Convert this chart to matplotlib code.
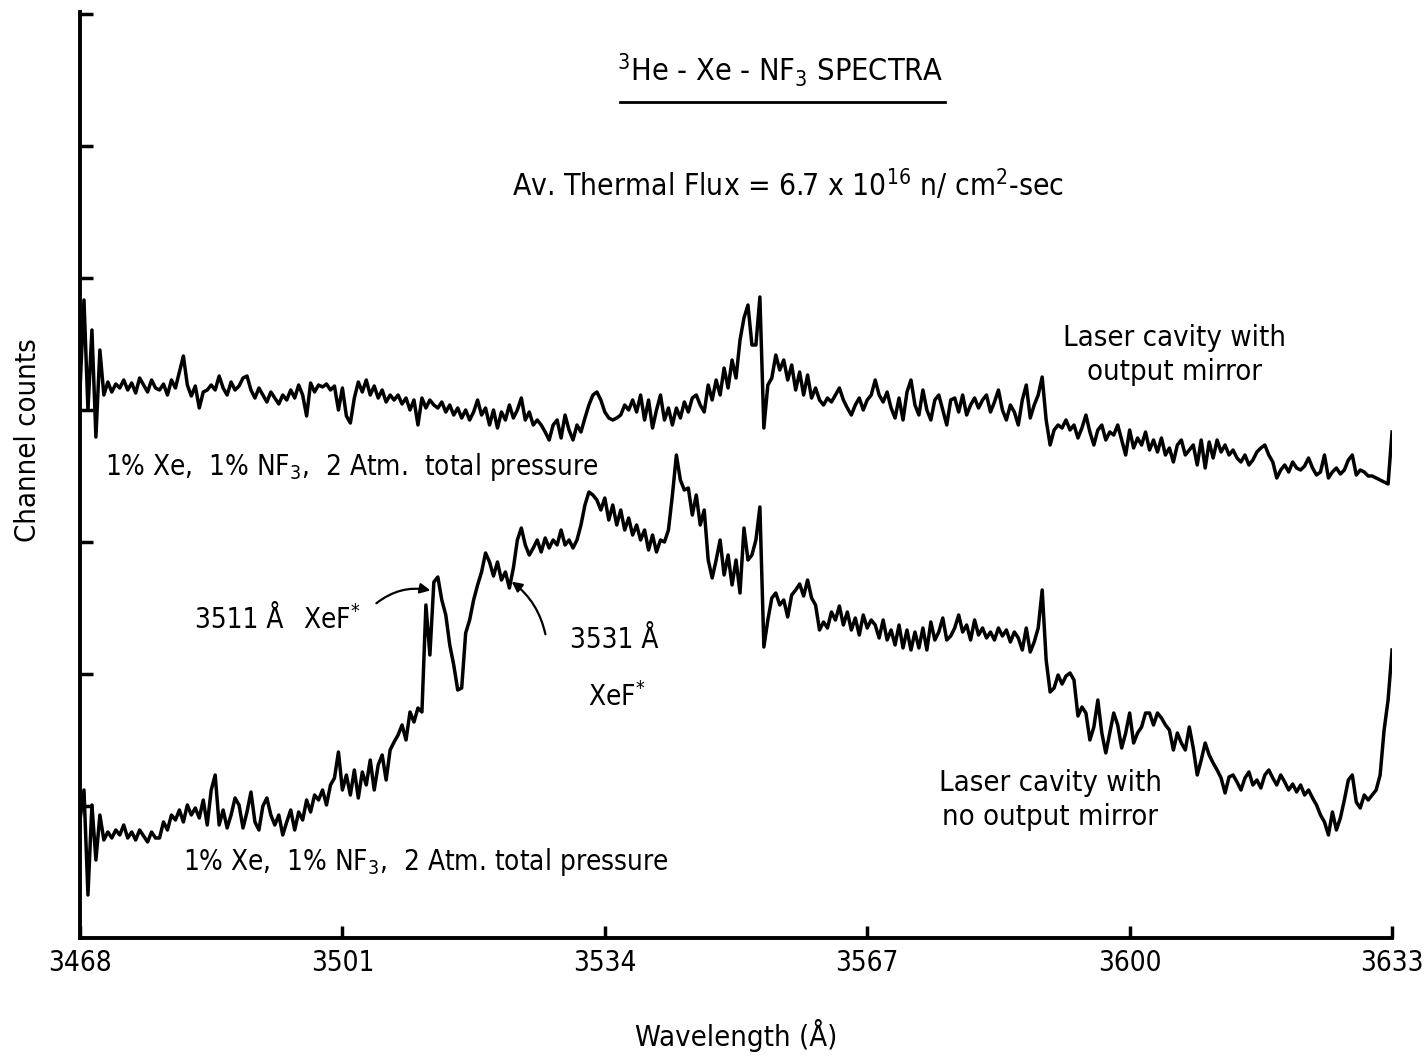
import matplotlib.pyplot as plt
import numpy as np
from matplotlib.lines import Line2D
from matplotlib import font_manager

# wavelength grid of the detector channels (0.5 A steps)
wave_start = 3468
wave_stop = 3633
n_channels = 331
wavelength = np.linspace(wave_start, wave_stop, n_channels)

# channel counts, laser cavity with output mirror
counts_mirror = [
    548, 638, 528, 608, 501, 588, 543, 556, 546, 554,
    550, 558, 548, 555, 545, 560, 553, 546, 558, 550,
    548, 554, 543, 558, 550, 566, 582, 553, 542, 552,
    530, 546, 548, 553, 548, 562, 550, 543, 556, 548,
    552, 560, 562, 548, 540, 550, 543, 536, 546, 540,
    534, 543, 538, 548, 540, 553, 543, 522, 555, 546,
    553, 551, 554, 548, 552, 528, 550, 522, 515, 540,
    556, 546, 558, 543, 552, 540, 548, 536, 543, 538,
    543, 534, 540, 528, 538, 513, 540, 530, 538, 533,
    530, 536, 526, 533, 523, 530, 520, 528, 518, 526,
    538, 523, 530, 513, 528, 510, 526, 518, 533, 520,
    528, 540, 518, 526, 513, 518, 513, 506, 498, 513,
    518, 500, 523, 508, 498, 513, 506, 520, 533, 543,
    546, 538, 526, 520, 518, 520, 523, 533, 528, 538,
    526, 543, 518, 538, 510, 528, 543, 518, 530, 513,
    530, 520, 536, 526, 540, 543, 533, 526, 553, 538,
    558, 543, 570, 550, 578, 560, 598, 620, 633, 593,
    593, 641, 510, 553, 560, 583, 568, 578, 558, 573,
    548, 566, 543, 563, 540, 550, 538, 533, 540, 536,
    543, 550, 538, 530, 523, 533, 540, 528, 538, 543,
    558, 543, 536, 546, 530, 520, 540, 518, 546, 558,
    533, 523, 548, 528, 518, 538, 543, 528, 513, 538,
    540, 526, 543, 523, 533, 540, 530, 538, 543, 526,
    536, 548, 528, 518, 533, 526, 513, 538, 553, 520,
    533, 543, 561, 518, 493, 508, 513, 510, 518, 508,
    513, 500, 510, 523, 506, 493, 508, 513, 498, 506,
    503, 513, 498, 483, 508, 490, 500, 493, 506, 488,
    498, 486, 500, 483, 490, 476, 493, 498, 483, 488,
    493, 473, 498, 470, 496, 480, 498, 486, 493, 483,
    488, 480, 476, 483, 473, 478, 486, 490, 493, 483,
    476, 460, 468, 473, 466, 476, 470, 468, 472, 480,
    470, 463, 466, 483, 460, 466, 470, 464, 468, 478,
    483, 463, 468, 466, 462, 462, 460, 458, 456, 454, 506,
]

# channel counts, laser cavity with no output mirror
counts_no_mirror = [
    118, 148, 43, 133, 78, 123, 98, 106, 100, 108,
    103, 113, 100, 106, 98, 108, 102, 96, 106, 100,
    100, 116, 108, 123, 118, 128, 116, 133, 123, 130,
    120, 138, 113, 148, 163, 113, 128, 110, 123, 140,
    133, 110, 126, 146, 116, 108, 132, 140, 123, 113,
    123, 103, 116, 128, 108, 126, 118, 138, 126, 143,
    138, 148, 133, 153, 160, 186, 148, 163, 143, 168,
    140, 166, 153, 178, 148, 173, 183, 158, 188, 196,
    203, 213, 198, 226, 216, 230, 226, 333, 283, 356,
    361, 338, 323, 293, 273, 248, 250, 305, 318, 338,
    353, 366, 385, 376, 362, 376, 358, 366, 350, 370,
    398, 410, 393, 383, 390, 398, 386, 400, 390, 398,
    393, 408, 393, 398, 390, 398, 413, 433, 446, 443,
    438, 428, 440, 418, 433, 413, 428, 408, 420, 403,
    413, 398, 408, 388, 403, 386, 398, 396, 408, 443,
    483, 458, 448, 450, 423, 443, 413, 428, 378, 360,
    378, 398, 363, 383, 353, 378, 345, 410, 378, 383,
    398, 431, 291, 318, 340, 345, 333, 338, 321, 343,
    348, 354, 342, 358, 340, 333, 308, 316, 310, 326,
    318, 332, 313, 326, 308, 320, 303, 323, 310, 318,
    313, 300, 318, 298, 308, 293, 313, 290, 308, 288,
    306, 290, 310, 288, 316, 298, 306, 320, 298, 302,
    310, 323, 306, 313, 298, 318, 303, 310, 300, 306,
    298, 310, 302, 308, 296, 306, 300, 288, 310, 286,
    296, 310, 348, 278, 246, 250, 263, 254, 262, 265,
    258, 222, 231, 225, 198, 211, 238, 205, 185, 205,
    225, 213, 190, 205, 225, 195, 205, 211, 225, 225,
    213, 225, 220, 213, 208, 188, 205, 195, 188, 211,
    190, 163, 178, 195, 183, 175, 168, 160, 145, 161,
    163, 156, 148, 160, 166, 153, 158, 150, 163, 168,
    160, 153, 163, 156, 148, 154, 146, 153, 143, 148,
    140, 133, 123, 116, 103, 126, 108, 120, 138, 158,
    163, 136, 130, 143, 138, 143, 148, 163, 208, 238, 288,
]

x_ticks = [3468, 3501, 3534, 3567, 3600, 3633]
y_ticks = [132, 264, 396, 528, 660, 792, 924]

# 优先使用窄体字体
font_path = font_manager.findfont(
    font_manager.FontProperties(family='DejaVu Sans', stretch='condensed'))
if 'Condensed' in font_path:
    plt.rcParams['font.stretch'] = 'condensed'
    fs = 20
else:
    fs = 18
plt.rcParams['font.family'] = ['DejaVu Sans']
plt.rcParams['mathtext.default'] = 'regular'

fig = plt.figure(figsize=(14.26, 10.63), dpi=100)
ax = fig.add_axes([0.0561, 0.1176, 0.9201, 0.8711])

ax.plot(wavelength, counts_mirror, color='black', linewidth=2.5)
ax.plot(wavelength, counts_no_mirror, color='black', linewidth=2.5)

ax.set_xlim(wave_start, wave_stop)
ax.set_ylim(0, 926)

# 坐标轴样式
for side in ['top', 'right']:
    ax.spines[side].set_visible(False)
for side in ['left', 'bottom']:
    ax.spines[side].set_linewidth(2.8)
ax.set_xticks(x_ticks)
ax.set_xticklabels([str(v) for v in x_ticks], fontsize=fs)
ax.set_yticks(y_ticks)
ax.set_yticklabels([])
ax.tick_params(axis='both', direction='in', length=9, width=2.5, pad=8)

ax.set_xlabel('Wavelength (Å)', fontsize=fs + 1, labelpad=30)
ax.set_ylabel('Channel counts', fontsize=fs + 1)
ax.yaxis.set_label_coords(-0.029, 0.538)

# 标题和说明文字
ax.text(3556, 868, '$^{3}$He - Xe - NF$_{3}$ SPECTRA', fontsize=fs + 2,
        ha='center', va='center')
fig.add_artist(Line2D([620 / 1426, 945 / 1426], [1 - 102 / 1063, 1 - 102 / 1063],
                      color='black', linewidth=2.0))
ax.text(3557, 753, 'Av. Thermal Flux = 6.7 x 10$^{16}$ n/ cm$^{2}$-sec',
        fontsize=fs + 1.5, ha='center', va='center')

ax.text(3605.7, 583, 'Laser cavity with\noutput mirror', fontsize=fs + 1,
        ha='center', va='center', multialignment='center', linespacing=1.25)
ax.text(3471.1, 471, '1% Xe,  1% NF$_{3}$,  2 Atm.  total pressure', fontsize=fs,
        ha='left', va='center')

ax.text(3482.5, 318, '3511 Å', fontsize=fs, ha='left', va='center')
ax.text(3496.0, 318, 'XeF$^{*}$', fontsize=fs, ha='left', va='center')
ax.text(3529.6, 298, '3531 Å', fontsize=fs, ha='left', va='center')
ax.text(3531.9, 241, 'XeF$^{*}$', fontsize=fs, ha='left', va='center')

ax.text(3590.0, 138, 'Laser cavity with\nno output mirror', fontsize=fs + 1,
        ha='center', va='center', multialignment='center', linespacing=1.25)
ax.text(3481.0, 76, '1% Xe,  1% NF$_{3}$,  2 Atm. total pressure', fontsize=fs,
        ha='left', va='center')

# 指向 XeF* 峰的箭头
ax.annotate('', xy=(3512.4, 347), xytext=(3505.0, 333),
            arrowprops=dict(arrowstyle='-|>', color='black', lw=1.6,
                            connectionstyle='arc3,rad=-0.25', mutation_scale=15))
ax.annotate('', xy=(3522.0, 358), xytext=(3526.6, 301),
            arrowprops=dict(arrowstyle='-|>', color='black', lw=1.6,
                            connectionstyle='arc3,rad=0.2', mutation_scale=15))

plt.savefig('out.png', dpi=100)
